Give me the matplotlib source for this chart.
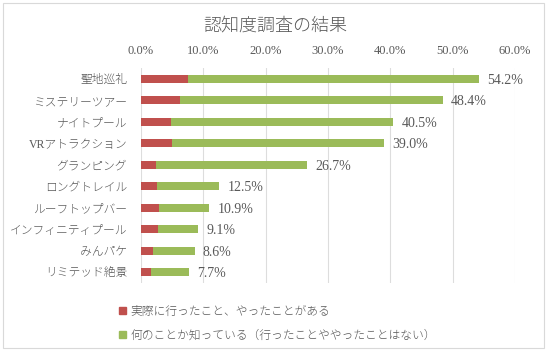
import matplotlib
matplotlib.use("Agg")
import matplotlib.pyplot as plt
from matplotlib.patches import Rectangle
from matplotlib.ticker import PercentFormatter
import numpy as np

plt.rcParams['font.family'] = ['Liberation Serif', 'Noto Sans CJK JP']
plt.rcParams['font.weight'] = 'light'

# data (percent)
categories = ['聖地巡礼', 'ミステリーツアー', 'ナイトプール', 'VRアトラクション', 'グランピング',
              'ロングトレイル', 'ルーフトップバー', 'インフィニティプール', 'みんパケ', 'リミテッド絶景']
totals = [54.2, 48.4, 40.5, 39.0, 26.7, 12.5, 10.9, 9.1, 8.6, 7.7]
visited = [7.6, 6.2, 4.8, 4.9, 2.4, 2.5, 2.9, 2.7, 2.0, 1.6]
known_only = [t - v for t, v in zip(totals, visited)]
series_names = ['実際に行ったこと、やったことがある',
                '何のことか知っている（行ったことややったことはない）']

red = '#C0504D'
green = '#9BBB59'
txt = '#595959'

fig = plt.figure(figsize=(5.5, 3.51), dpi=100)
ax = fig.add_axes([141/550, 1-283/351, (515-141)/550, (283-68)/351])

y = np.arange(len(categories))
ax.barh(y, visited, height=0.38, color=red, label=series_names[0])
ax.barh(y, known_only, left=visited, height=0.38, color=green, label=series_names[1])

for yi, t in zip(y, totals):
    ax.annotate(f'{t:.1f}%', (t, yi), xytext=(6, -1), textcoords='offset points',
                va='center', ha='left', fontsize=10, color=txt)

ax.set_xlim(0, 60)
ax.set_ylim(len(categories) - 0.5, -0.5)
ax.set_xticks(np.arange(0, 61, 10))
ax.xaxis.set_major_formatter(PercentFormatter(decimals=1))
ax.xaxis.tick_top()
ax.set_yticks(y)
ax.set_yticklabels(categories, fontsize=8.5)
ax.tick_params(axis='both', length=0, colors=txt)
ax.tick_params(axis='x', labelsize=9, pad=8)
ax.tick_params(axis='y', pad=10)
ax.grid(axis='x', color='#DDDDDD', linewidth=0.8)
ax.set_axisbelow(True)
for s in ax.spines.values():
    s.set_visible(False)

fig.text(0.5, 1-26/351, '認知度調査の結果', ha='center', va='center', fontsize=13, color=txt)

handles = [Rectangle((0, 0), 1, 1, color=red), Rectangle((0, 0), 1, 1, color=green)]
fig.legend(handles, series_names, loc='upper left', bbox_to_anchor=(108/550, 1-295/351),
           frameon=False, fontsize=8.5, labelcolor=txt, handlelength=0.6, handleheight=0.6,
           handletextpad=0.4, labelspacing=1.0)

fig.add_artist(Rectangle((3/550, 3/351), 541/550, 345/351, transform=fig.transFigure,
                         fill=False, edgecolor='#D9D9D9', linewidth=0.8))

fig.savefig('out.png', dpi=100)
